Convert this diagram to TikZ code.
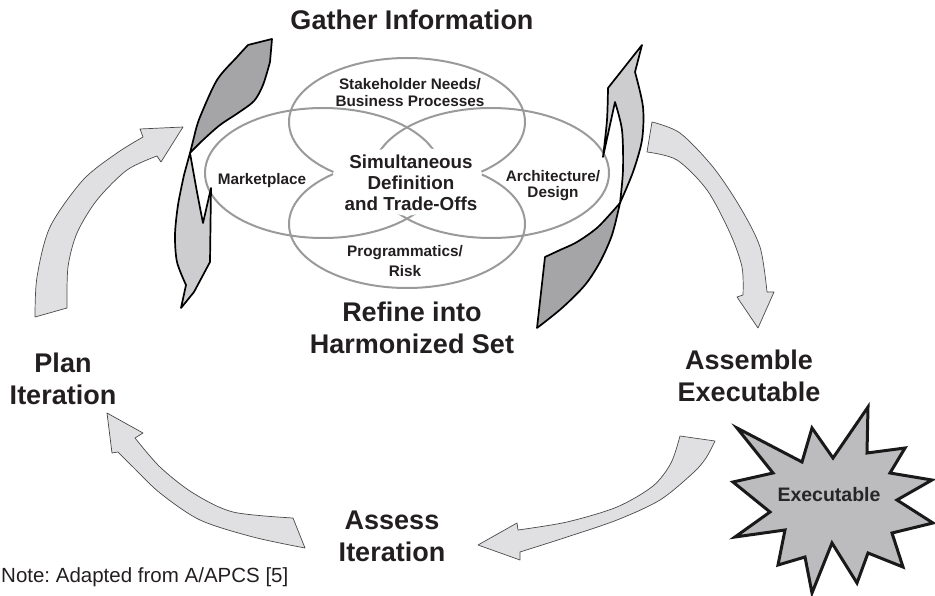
\documentclass[tikz,border=0pt]{standalone}
\usepackage{fontspec}
\setmainfont{Liberation Sans}
\frenchspacing
\definecolor{textcol}{HTML}{231F20}
\definecolor{venngray}{HTML}{9A9A9A}
\definecolor{arrowfill}{HTML}{E0E0E2}
\definecolor{arrowline}{HTML}{4A4A4A}
\definecolor{twdark}{HTML}{A5A5A7}
\definecolor{twlight}{HTML}{CDCDCF}
\definecolor{starfill}{HTML}{BCBCBE}
\newcommand{\headfont}{\fontsize{27}{32}\selectfont\bfseries}
\newcommand{\midfont}{\fontsize{18.8}{21}\selectfont\bfseries}
\newcommand{\labfont}{\fontsize{15.3}{17}\selectfont\bfseries}
\begin{document}
\begin{tikzpicture}[x=1pt,y=-1pt,
  venn/.style={draw=venngray,line width=2pt},
  lightarrow/.style={fill=arrowfill,draw=arrowline,line width=0.7pt,line join=round},
  twistdark/.style={fill=twdark,draw=black,line width=1.7pt,line join=round},
  twistlight/.style={fill=twlight,draw=black,line width=1.7pt,line join=round},
  heading/.style={font=\headfont,align=center,text=textcol,inner sep=0pt},
  vennlabel/.style={font=\labfont,align=center,text=textcol,inner sep=0pt}]
\useasboundingbox (0,0) rectangle (935,596);

% ---- Venn ellipses ----
\draw[venn] (407,122) ellipse [x radius=118pt, y radius=64pt];
\draw[venn] (407,224) ellipse [x radius=118pt, y radius=64pt];
\draw[venn] (323,173) ellipse [x radius=118pt, y radius=65pt];
\draw[venn] (491,173) ellipse [x radius=118pt, y radius=65pt];
% white area behind the central text
\fill[white] plot[smooth cycle] coordinates {(333,173) (358,158) (383,149) (407,146) (433,149) (457,158) (482,173)
  (462,194) (432,209) (413,215) (401,215) (383,209) (353,194)};

% ---- light block arrows ----
% Plan -> Gather
\filldraw[lightarrow] plot[smooth] coordinates {(35,317) (37,277) (50,227) (83,180) (117,153) (143,137)}
  -- (140,129) -- (183,127) -- (161,162)
  -- plot[smooth] coordinates {(157,156) (127,170) (97,200) (77,233) (68,267) (67,308)} -- cycle;
% Gather -> Assemble
\filldraw[lightarrow] plot[smooth] coordinates {(652,122) (680,133) (713,167) (740,207) (760,247) (767,292)}
  -- (774,292) -- (758,328) -- (737,297)
  -- plot[smooth] coordinates {(743,295) (742,267) (730,233) (707,190) (677,160) (647,152)} -- cycle;
% Assemble -> Assess
\filldraw[lightarrow] plot[smooth] coordinates {(715,441) (706,458) (693,473) (660,500) (617,520) (567,537) (520,552)}
  -- (520,560) -- (478,545) -- (517,523)
  -- plot[smooth] coordinates {(518,530) (567,522) (617,507) (653,486) (671,463) (680,436)} -- cycle;
% Assess -> Plan
\filldraw[lightarrow] plot[smooth] coordinates {(305,548) (253,537) (200,520) (160,493) (133,467) (118,452)}
  -- (112,453) -- (107,413) -- (143,433)
  -- plot[smooth] coordinates {(135,438) (160,467) (193,493) (233,512) (293,518)} -- cycle;

% ---- twisted arrows ----
% left
\filldraw[twistdark] (248,45) -- (272,39)
  -- plot[smooth] coordinates {(270,62) (263,85) (254,101) (238,113) (220,125) (203,140) (190,153)}
  -- plot[smooth] coordinates {(195,133) (200,117) (217,80) (237,57) (248,45)} -- cycle;
\filldraw[twistlight] (190,153)
  -- plot[smooth] coordinates {(184,175) (178,205) (175,235) (177,262) (186,285)}
  -- (181,308) -- (194,292) -- (210,262) -- (211,188) -- (203,223)
  -- plot[smooth] coordinates {(203,223) (197,192) (190,153)} -- cycle;
% right
\filldraw[twistlight] (642,45) -- (635,72)
  -- plot[smooth] coordinates {(635,72) (643,107) (642,140) (633,172) (620,203)}
  -- plot[smooth] coordinates {(620,203) (623,170) (622,130) (615,102)}
  -- (603,157)
  -- plot[smooth] coordinates {(603,157) (607,120) (608,88)} -- cycle;
\filldraw[twistdark] (620,203)
  -- plot[smooth] coordinates {(620,203) (612,235) (600,262) (585,285) (562,308) (537,328)}
  -- (545,257)
  -- plot[smooth] coordinates {(545,257) (560,250) (577,242) (598,227) (620,203)} -- cycle;

% ---- star ----
\filldraw[fill=starfill,draw=black!90,line width=3pt,line join=miter]
  (737,428) -- (802,462) -- (812,428) -- (833,458) -- (868,407) -- (867,453)
  -- (905,448) -- (890,473) -- (932,480) -- (897,500) -- (933,523) -- (892,533)
  -- (903,567) -- (868,553) -- (857,583) -- (832,543) -- (812,593) -- (805,557)
  -- (778,565) -- (785,530) -- (735,537) -- (770,512) -- (733,482) -- (773,473) -- cycle;
\node[font=\fontsize{19.5}{22}\selectfont\bfseries,text=black!85,inner sep=0pt] (exe) at (829,495) {Executable};

% ---- Venn texts ----
\node[font=\midfont,align=center,text=textcol,inner sep=0pt] (sim) at (411,182.5) {Simultaneous\\Definition\\and Trade-Offs};
\node[vennlabel] (stake) at (410,93) {Stakeholder Needs/\\Business Processes};
\node[vennlabel] (market) at (262,181) {Marketplace};
\node[vennlabel,font=\fontsize{15.3}{15.5}\selectfont\bfseries] (arch) at (553,185.5) {Architecture/\\Design};
\node[vennlabel,font=\fontsize{15.3}{20}\selectfont\bfseries] (prog) at (405,261.5) {Programmatics/\\Risk};

% ---- headings ----
\node[heading] (gather) at (412,20) {Gather Information};
\node[heading] (refine) at (412,328) {Refine into\\Harmonized Set};
\node[heading] (plan) at (63,379) {Plan\\Iteration};
\node[heading] (assemble) at (749,376) {Assemble\\Executable};
\node[heading] (assess) at (392,536) {Assess\\Iteration};
\node[font=\fontsize{20.5}{24}\selectfont,text=textcol,inner sep=0pt,anchor=base west] (note) at (1,582) {Note: Adapted from A/APCS [5]};
\end{tikzpicture}
\end{document}
